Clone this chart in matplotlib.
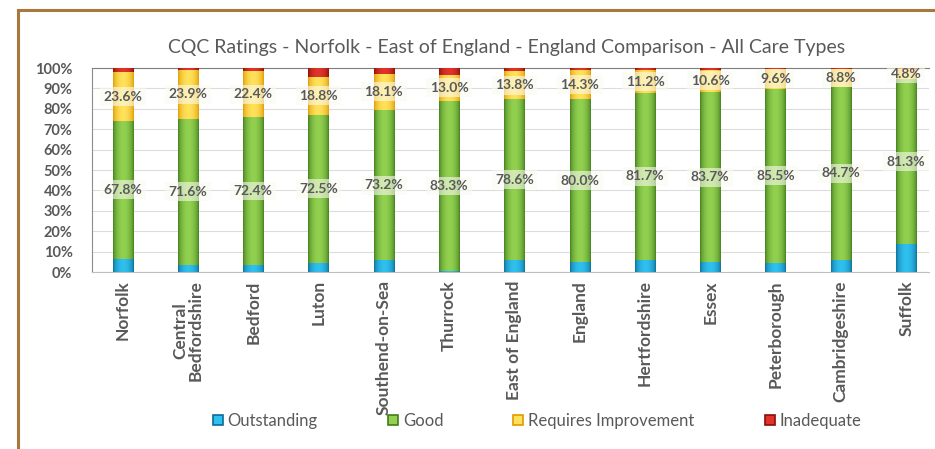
import numpy as np
import matplotlib.pyplot as plt
from matplotlib.colors import to_rgb
from matplotlib.lines import Line2D

plt.rcParams['font.family'] = ['Lato', 'DejaVu Sans']

areas = ['Norfolk', 'Central\nBedfordshire', 'Bedford', 'Luton', 'Southend-on-Sea',
         'Thurrock', 'East of England', 'England', 'Hertfordshire', 'Essex',
         'Peterborough', 'Cambridgeshire', 'Suffolk']
outstanding = [6.4, 3.5, 3.5, 4.5, 6.0, 0.5, 6.0, 4.7, 6.0, 4.7, 4.4, 6.0, 13.5]
good = [67.8, 71.6, 72.4, 72.5, 73.2, 83.3, 78.6, 80.0, 81.7, 83.7, 85.5, 84.7, 81.3]
requires_improvement = [23.6, 23.9, 22.4, 18.8, 18.1, 13.0, 13.8, 14.3, 11.2, 10.6, 9.6, 8.8, 4.8]
inadequate = [2.2, 1.0, 1.7, 4.2, 2.7, 3.2, 1.6, 1.0, 1.1, 1.0, 0.5, 0.5, 0.4]

series = [
    ('Outstanding', outstanding, '#2fc0ee', '#0b6d96', False),
    ('Good', good, '#92d050', '#3f7d1c', True),
    ('Requires Improvement', requires_improvement, '#ffe15a', '#e09a00', True),
    ('Inadequate', inadequate, '#e0342a', '#8a0e0a', False),
]

fig = plt.figure(figsize=(9.35, 4.49), dpi=100)
ax = fig.add_axes([92 / 935, 1 - 272 / 449, (929 - 92) / 935, (272 - 68) / 449])

x = np.arange(len(areas))
bottom = np.zeros(len(areas))
handles = []
for name, vals, light, dark, labelled in series:
    vals = np.array(vals)
    bars = ax.bar(x, vals, 0.31, bottom=bottom, color=light, edgecolor='none', zorder=2)
    # cylinder-like shading across each bar
    t = np.linspace(0, 1, 64)
    w = np.sin(np.pi * t) ** 0.6
    c0, c1 = np.array(to_rgb(dark)), np.array(to_rgb(light))
    grad = (c0[None, :] * (1 - w[:, None]) + c1[None, :] * w[:, None])[None, :, :]
    for b in bars:
        if b.get_height() <= 0:
            continue
        im = ax.imshow(grad, extent=(b.get_x(), b.get_x() + b.get_width(),
                                     b.get_y(), b.get_y() + b.get_height()),
                       aspect='auto', interpolation='bilinear', zorder=3)
        im.set_clip_path(b)
    if labelled:
        for xi, bi, v in zip(x, bottom, vals):
            ax.text(xi, bi + v / 2, f'{v:.1f}%', ha='center', va='center',
                    fontsize=10, fontweight='bold', color='#595959', zorder=5,
                    bbox=dict(boxstyle='square,pad=0.25', fc='#fbfbf0', ec='none', alpha=0.6))
    handles.append(plt.Rectangle((0, 0), 1, 1, fc=light, ec=dark, lw=1.2))
    bottom = bottom + vals

ax.set_xlim(-0.47, 12.35)
ax.set_ylim(0, 100)
ax.set_yticks(np.arange(0, 101, 10))
ax.set_yticklabels([f'{v}%' for v in range(0, 101, 10)], fontsize=10.5,
                   fontweight='bold', color='#595959')
ax.set_xticks(x)
ax.set_xticklabels(areas, rotation=90, fontsize=12.5, fontweight='bold',
                   color='#595959', va='top', ha='center', linespacing=1.0)
ax.tick_params(axis='x', length=0, pad=6)
ax.tick_params(axis='y', length=0, pad=14)
ax.grid(axis='y', color='#dcdcdc', lw=0.8, zorder=0)
ax.set_axisbelow(True)
ax.spines['right'].set_visible(False)
ax.spines['top'].set_color('#7f7f7f')
ax.spines['left'].set_color('#8c8c8c')
ax.spines['bottom'].set_color('#bfbfbf')

fig.text(507 / 935, 1 - 48 / 449,
         'CQC Ratings - Norfolk - East of England - England Comparison - All Care Types',
         ha='center', va='center', fontsize=14, color='#595959')

fig.legend(handles, [s[0] for s in series], loc='center', ncol=4,
           bbox_to_anchor=(537 / 935, 1 - 421 / 449), frameon=False,
           fontsize=12, labelcolor='#595959', handlelength=0.6, handleheight=0.6,
           handletextpad=0.3, columnspacing=4.2)

# brown frame round the chart
frame = '#a8773b'
fig.add_artist(Line2D([18 / 935, 1], [1 - 10 / 449] * 2, color=frame, lw=2.2))
fig.add_artist(Line2D([18 / 935] * 2, [1 - 10 / 449, 0], color=frame, lw=2.2))

fig.savefig('out.png', dpi=100)
